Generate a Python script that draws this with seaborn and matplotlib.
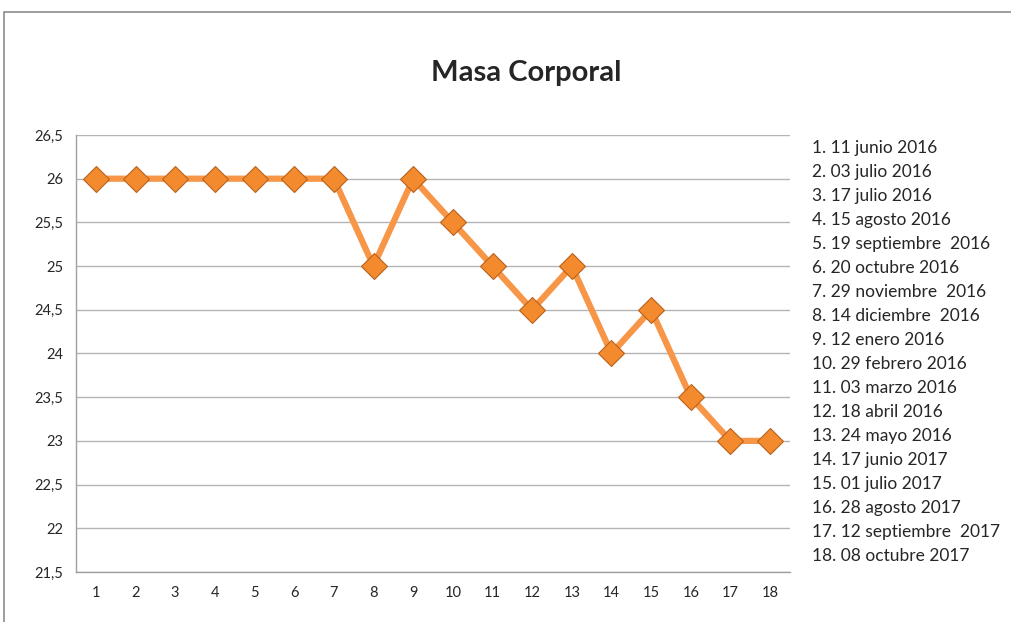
import matplotlib
matplotlib.use("Agg")
import matplotlib.pyplot as plt
import matplotlib.patches as mpatches
import seaborn as sns
import pandas as pd
import numpy as np

# data
medicion = list(range(1, 19))
masa = [26, 26, 26, 26, 26, 26, 26, 25, 26, 25.5, 25, 24.5, 25, 24, 24.5, 23.5, 23, 23]
fechas = [
    "1. 11 junio 2016",
    "2. 03 julio 2016",
    "3. 17 julio 2016",
    "4. 15 agosto 2016",
    "5. 19 septiembre  2016",
    "6. 20 octubre 2016",
    "7. 29 noviembre  2016",
    "8. 14 diciembre  2016",
    "9. 12 enero 2016",
    "10. 29 febrero 2016",
    "11. 03 marzo 2016",
    "12. 18 abril 2016",
    "13. 24 mayo 2016",
    "14. 17 junio 2017",
    "15. 01 julio 2017",
    "16. 28 agosto 2017",
    "17. 12 septiembre  2017",
    "18. 08 octubre 2017",
]
y_ticks = [21.5, 22, 22.5, 23, 23.5, 24, 24.5, 25, 25.5, 26, 26.5]

df = pd.DataFrame({"medicion": medicion, "masa": masa})

sns.set_style("white")
plt.rcParams["font.family"] = ["Lato", "DejaVu Sans"]

fig = plt.figure(figsize=(10.11, 6.22), dpi=100)
ax = fig.add_axes([76 / 1011, 1 - 572 / 622, (790 - 76) / 1011, (572 - 135) / 622])

orange = "#F79646"
sns.lineplot(data=df, x="medicion", y="masa", ax=ax, color=orange, linewidth=4.5,
             marker="D", markersize=13, markerfacecolor="#F38B2E",
             markeredgecolor="#B8611C", markeredgewidth=0.8, zorder=3)

ax.set_xlim(0.5, 18.5)
ax.set_ylim(21.5, 26.5)
ax.set_yticks(y_ticks)
ax.set_yticklabels([f"{v:g}".replace(".", ",") for v in y_ticks], fontsize=10.5)
ax.set_xticks(medicion)
ax.set_xticklabels([str(m) for m in medicion], fontsize=10.5)
ax.set_xticks(np.arange(0.5, 19, 1), minor=True)
ax.tick_params(axis="x", which="major", length=0, pad=10)
ax.tick_params(axis="x", which="minor", length=5, color="#A0A0A0", direction="out")
ax.tick_params(axis="y", length=5, color="#A0A0A0", direction="out", pad=4)
ax.set_xlabel("")
ax.set_ylabel("")
ax.grid(axis="y", color="#B4B4B4", linewidth=1)
ax.set_axisbelow(True)
for side in ["top", "right"]:
    ax.spines[side].set_visible(False)
for side in ["left", "bottom"]:
    ax.spines[side].set_color("#A0A0A0")
    ax.spines[side].set_linewidth(1)

fig.text(526 / 1011, 1 - 73 / 622, "Masa Corporal", ha="center", va="center",
         fontsize=21, fontweight="bold")

for i, f in enumerate(fechas):
    fig.text(812 / 1011, 1 - (148 + i * 24) / 622, f, ha="left", va="center", fontsize=12.5)

# outer chart frame
frame = mpatches.Rectangle((4 / 1011, -0.1), 1.2, 1 - 12 / 622 + 0.1, transform=fig.transFigure,
                           fill=False, edgecolor="#8C8C8C", linewidth=1.2, clip_on=False)
fig.patches.append(frame)

fig.savefig("out.png", dpi=100)
